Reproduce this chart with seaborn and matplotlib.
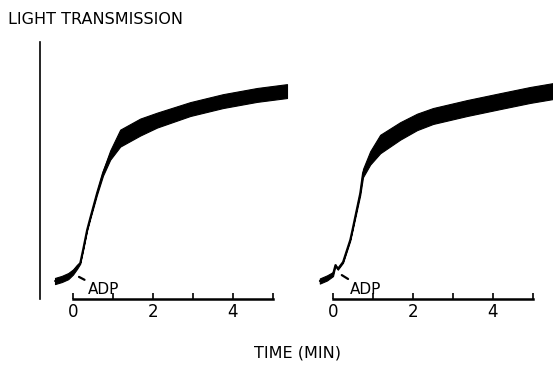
import numpy as np
import pandas as pd
import matplotlib
matplotlib.use("Agg")
import matplotlib.pyplot as plt
import seaborn as sns

# ---- data (time in min, light transmission in arbitrary %) ----
left_time = [-0.45, -0.28, -0.12, 0.0, 0.1, 0.18, 0.25, 0.35, 0.43, 0.6, 0.75, 0.93,
             1.18, 1.68, 2.1, 2.93, 3.75, 4.6, 5.35]
left_trans = [7.0, 7.8, 8.9, 10.5, 12.5, 14.0, 19.1, 26.8, 31.5, 41.2, 49.0, 56.0,
              62.6, 66.9, 69.6, 73.9, 77.0, 79.4, 80.9]
left_spread = [1.2, 1.2, 1.2, 1.0, 0.8, 0.3, 0.3, 0.3, 0.3, 0.6, 1.0, 1.8,
               3.3, 3.3, 2.9, 2.7, 2.7, 2.7, 2.7]

right_time = [-0.33, -0.15, 0.0, 0.06, 0.12, 0.25, 0.43, 0.48, 0.68, 0.75, 0.93,
              1.18, 1.68, 2.1, 2.5, 3.35, 4.18, 4.93, 5.5]
right_trans = [7.0, 8.2, 9.7, 13.2, 11.7, 14.4, 23.0, 26.5, 41.2, 49.0, 54.9,
               60.3, 65.4, 68.9, 71.2, 74.3, 77.0, 79.4, 80.9]
right_spread = [1.0, 1.0, 0.8, 0.3, 0.3, 0.3, 0.3, 0.3, 0.8, 1.6, 2.6,
                3.6, 3.4, 3.2, 3.1, 3.1, 3.1, 3.1, 3.1]

tick_values = [0, 1, 2, 3, 4, 5]
tick_labels = ["0", "", "2", "", "4", ""]

sns.set_style("white")
plt.rcParams["font.family"] = ["DejaVu Sans"]
plt.rcParams["text.color"] = "black"

W, H = 553, 368
fig = plt.figure(figsize=(W / 100, H / 100), dpi=100)

def px_axes(x0, x1, y_top, y_bot):
    return fig.add_axes([x0 / W, (H - y_bot) / H, (x1 - x0) / W, (y_bot - y_top) / H])

ax_l = px_axes(40, 300, 42, 299)
ax_r = px_axes(300, 553, 42, 299)

panels = [
    (ax_l, left_time, left_trans, left_spread, (-0.825, 5.675), True, (0.15, 8.6), (0.37, 3.6)),
    (ax_r, right_time, right_trans, right_spread, (-0.825, 5.5), False, (0.22, 9.3), (0.42, 3.6)),
]

for ax, t, y, s, xlim, show_left, arrow_xy, text_xy in panels:
    df = pd.DataFrame({"time": t, "trans": y, "spread": s})
    ax.fill_between(df["time"], df["trans"] - df["spread"], df["trans"] + df["spread"],
                    color="black", linewidth=0.8, edgecolor="black")
    sns.lineplot(data=df, x="time", y="trans", ax=ax, color="black", linewidth=1.4,
                 estimator=None, sort=False)
    ax.set_xlim(*xlim)
    ax.set_ylim(0, 100)
    ax.set_xlabel("")
    ax.set_ylabel("")
    ax.set_yticks([])
    ax.set_xticks(tick_values)
    ax.set_xticklabels(tick_labels, fontsize=12, color="black")
    ax.tick_params(axis="x", bottom=True, direction="in", length=4, width=1.2, pad=3,
                   colors="black")
    for side in ["top", "right"]:
        ax.spines[side].set_visible(False)
    ax.spines["bottom"].set_bounds(0, 5)
    ax.spines["bottom"].set_linewidth(1.8)
    ax.spines["bottom"].set_color("black")
    ax.spines["left"].set_visible(show_left)
    ax.spines["left"].set_linewidth(1.2)
    ax.spines["left"].set_color("black")
    ax.patch.set_alpha(0)
    ax.annotate("ADP", xy=arrow_xy, xytext=text_xy, fontsize=11, color="black",
                ha="left", va="center",
                arrowprops=dict(arrowstyle="-", color="black", lw=1.6, shrinkA=0, shrinkB=0))

fig.text(8 / W, (H - 20) / H, "LIGHT TRANSMISSION", fontsize=11.5, color="black",
         ha="left", va="center")
fig.text(298 / W, (H - 353) / H, "TIME (MIN)", fontsize=11.5, color="black",
         ha="center", va="center")

fig.savefig("out.png", dpi=100, facecolor="white")
